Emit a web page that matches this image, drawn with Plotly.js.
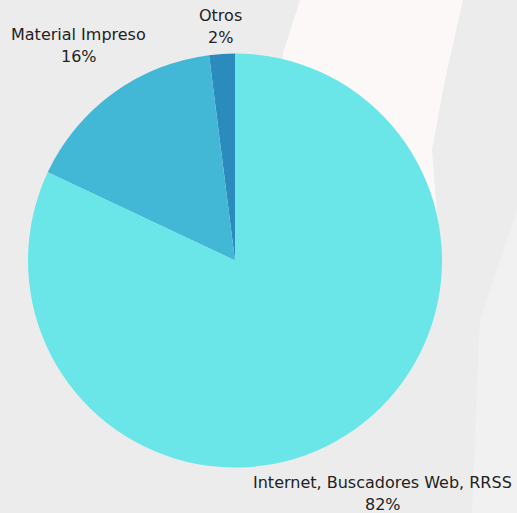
<!DOCTYPE html>
<html>
<head>
<meta charset="utf-8">
<script src="https://cdn.plot.ly/plotly-3.0.1.min.js"></script>
<style>html,body{margin:0;padding:0;background:#ececec;}#chart{width:517px;height:513px;}</style>
</head>
<body>
<div id="chart"></div>
<script>
// Data
const labels = ["Otros", "Material Impreso", "Internet, Buscadores Web, RRSS"];
const values = [2, 16, 82];
const colors = ["#2c8bbd", "#43b8d6", "#6be6e8"];
// label distance from centre (px), per slice – styling only
const labelDist = [234, 266, 276];

const W = 517, H = 513;
const cx = 235, cy = 260.5, R = 207;
const total = values.reduce((a, b) => a + b, 0);

const annotations = [];
let acc = 0;
values.forEach((v, i) => {
  const mid = (acc + v / 2) / total * 2 * Math.PI; // CCW from 12 o'clock
  acc += v;
  const px = cx - labelDist[i] * Math.sin(mid);
  const py = cy - labelDist[i] * Math.cos(mid);
  const pct = Math.round(v / total * 100) + "%";
  const font = {family: "DejaVu Sans", size: 16, color: "#222222"};
  annotations.push({xref: "paper", yref: "paper", x: px / W, y: 1 - py / H,
    xanchor: "center", yanchor: "middle", text: labels[i], showarrow: false, font: font, yshift: 11});
  annotations.push({xref: "paper", yref: "paper", x: px / W, y: 1 - py / H,
    xanchor: "center", yanchor: "middle", text: pct, showarrow: false, font: font, yshift: -11});
});

const trace = {
  type: "pie",
  labels: labels,
  values: values,
  sort: false,
  direction: "counterclockwise",
  rotation: -values[0] / total * 360,
  textinfo: "none",
  hoverinfo: "label+percent",
  marker: {colors: colors, line: {width: 0}},
  domain: {x: [(cx - R) / W, (cx + R) / W], y: [1 - (cy + R) / H, 1 - (cy - R) / H]}
};

function p(x, y) { return (x / W) + " " + (1 - y / H); }

const layout = {
  width: W, height: H,
  margin: {l: 0, r: 0, t: 0, b: 0},
  paper_bgcolor: "#ececec",
  showlegend: false,
  annotations: annotations,
  shapes: [
    {type: "path", xref: "paper", yref: "paper", layer: "below",
     path: "M " + p(300, 0) + " L " + p(463, 0) + " L " + p(445, 80) + " L " + p(432, 150) + " L " + p(440, 250) + " L " + p(283, 250) + " L " + p(283, 53) + " Z",
     fillcolor: "#fbf8f7", line: {width: 0}},
    {type: "path", xref: "paper", yref: "paper", layer: "below",
     path: "M " + p(517, 210) + " L " + p(517, 513) + " L " + p(472, 513) + " L " + p(480, 320) + " Z",
     fillcolor: "#f1f1f1", line: {width: 0}}
  ]
};

Plotly.newPlot("chart", [trace], layout, {displayModeBar: false, staticPlot: true});
</script>
</body>
</html>
